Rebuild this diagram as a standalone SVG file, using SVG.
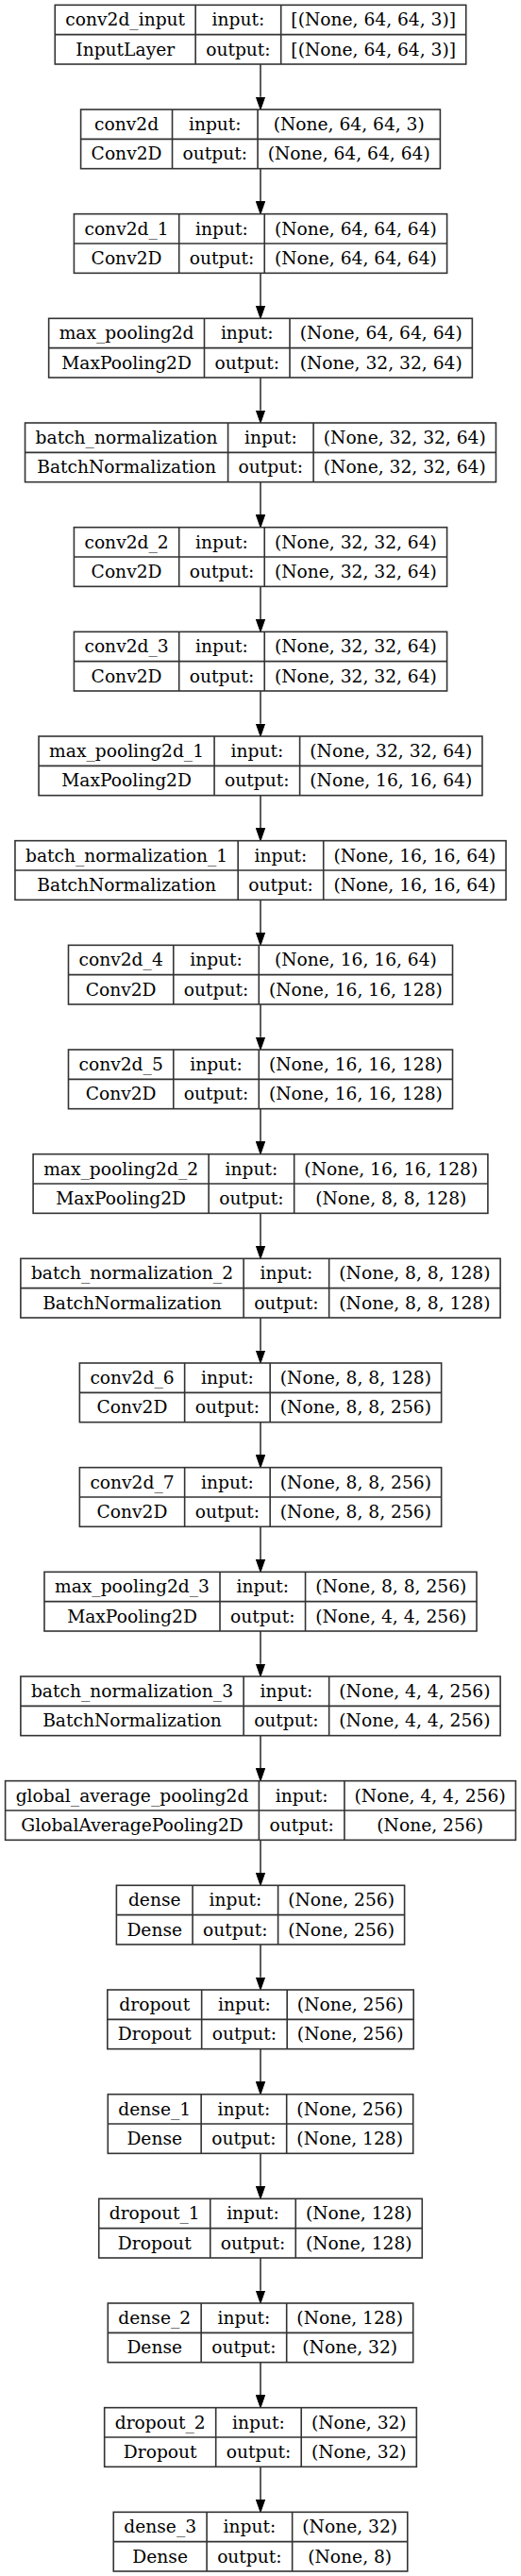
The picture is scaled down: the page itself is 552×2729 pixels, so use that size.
<svg xmlns="http://www.w3.org/2000/svg" width="552" height="2729" viewBox="0 0 552 2729">
<style>
.box{fill:#fff;stroke:#333;stroke-width:1.6}
.sep{stroke:#333;stroke-width:1.6;fill:none}
text{font-family:"DejaVu Serif","Liberation Serif",serif;font-size:18.67px;fill:#000;text-anchor:middle}
.edge{stroke:#333;stroke-width:1.6;fill:none;marker-end:url(#arrow)}
</style>
<defs>
<marker id="arrow" viewBox="0 0 13.33 9.33" refX="0" refY="4.67" markerWidth="13.33" markerHeight="9.33" markerUnits="userSpaceOnUse" orient="auto">
<path d="M0,0 L13.33,4.67 L0,9.33 z" fill="#000" stroke="#000" stroke-width="1"/>
</marker>
</defs>
<rect x="0" y="0" width="552" height="2729" fill="#fff"/>

<g id="connectors">
<path class="edge" d="M276,68 V102.67"/>
<path class="edge" d="M276,178.67 V213.33"/>
<path class="edge" d="M276,289.33 V324"/>
<path class="edge" d="M276,400 V434.67"/>
<path class="edge" d="M276,510.67 V545.33"/>
<path class="edge" d="M276,621.33 V656"/>
<path class="edge" d="M276,732 V766.67"/>
<path class="edge" d="M276,842.67 V877.33"/>
<path class="edge" d="M276,953.33 V988"/>
<path class="edge" d="M276,1064 V1098.67"/>
<path class="edge" d="M276,1174.67 V1209.33"/>
<path class="edge" d="M276,1285.33 V1320"/>
<path class="edge" d="M276,1396 V1430.67"/>
<path class="edge" d="M276,1506.67 V1541.33"/>
<path class="edge" d="M276,1617.33 V1652"/>
<path class="edge" d="M276,1728 V1762.67"/>
<path class="edge" d="M276,1838.67 V1873.33"/>
<path class="edge" d="M276,1949.33 V1984"/>
<path class="edge" d="M276,2060 V2094.67"/>
<path class="edge" d="M276,2170.67 V2205.33"/>
<path class="edge" d="M276,2281.33 V2316"/>
<path class="edge" d="M276,2392 V2426.67"/>
<path class="edge" d="M276,2502.67 V2537.33"/>
<path class="edge" d="M276,2613.33 V2648"/>
</g>

<g id="node-conv2d_input" transform="translate(0,5.33)">
<rect class="box" x="58.28" y="0" width="435.44" height="62.67"/>
<path class="sep" d="M58.28,31.33 H493.72 M207.16,0 V62.67 M297.69,0 V62.67"/>
<text x="132.72" y="22">conv2d_input</text><text x="132.72" y="53.3">InputLayer</text>
<text x="252.43" y="22">input:</text><text x="252.43" y="53.3">output:</text>
<text x="395.71" y="22">[(None, 64, 64, 3)]</text><text x="395.71" y="53.3">[(None, 64, 64, 3)]</text>
</g>

<g id="node-conv2d" transform="translate(0,116)">
<rect class="box" x="85.6" y="0" width="380.8" height="62.67"/>
<path class="sep" d="M85.6,31.33 H466.4 M182.53,0 V62.67 M273.06,0 V62.67"/>
<text x="134.07" y="22">conv2d</text><text x="134.07" y="53.3">Conv2D</text>
<text x="227.8" y="22">input:</text><text x="227.8" y="53.3">output:</text>
<text x="369.73" y="22">(None, 64, 64, 3)</text><text x="369.73" y="53.3">(None, 64, 64, 64)</text>
</g>

<g id="node-conv2d_1" transform="translate(0,226.67)">
<rect class="box" x="78.43" y="0" width="395.15" height="62.67"/>
<path class="sep" d="M78.43,31.33 H473.58 M189.71,0 V62.67 M280.24,0 V62.67"/>
<text x="134.07" y="22">conv2d_1</text><text x="134.07" y="53.3">Conv2D</text>
<text x="234.98" y="22">input:</text><text x="234.98" y="53.3">output:</text>
<text x="376.91" y="22">(None, 64, 64, 64)</text><text x="376.91" y="53.3">(None, 64, 64, 64)</text>
</g>

<g id="node-max_pooling2d" transform="translate(0,337.33)">
<rect class="box" x="51.65" y="0" width="448.71" height="62.67"/>
<path class="sep" d="M51.65,31.33 H500.36 M216.49,0 V62.67 M307.02,0 V62.67"/>
<text x="134.07" y="22">max_pooling2d</text><text x="134.07" y="53.3">MaxPooling2D</text>
<text x="261.76" y="22">input:</text><text x="261.76" y="53.3">output:</text>
<text x="403.69" y="22">(None, 64, 64, 64)</text><text x="403.69" y="53.3">(None, 32, 32, 64)</text>
</g>

<g id="node-batch_normalization" transform="translate(0,448)">
<rect class="box" x="26.55" y="0" width="498.9" height="62.67"/>
<path class="sep" d="M26.55,31.33 H525.45 M241.58,0 V62.67 M332.11,0 V62.67"/>
<text x="134.07" y="22">batch_normalization</text><text x="134.07" y="53.3">BatchNormalization</text>
<text x="286.85" y="22">input:</text><text x="286.85" y="53.3">output:</text>
<text x="428.78" y="22">(None, 32, 32, 64)</text><text x="428.78" y="53.3">(None, 32, 32, 64)</text>
</g>

<g id="node-conv2d_2" transform="translate(0,558.67)">
<rect class="box" x="78.43" y="0" width="395.15" height="62.67"/>
<path class="sep" d="M78.43,31.33 H473.58 M189.71,0 V62.67 M280.24,0 V62.67"/>
<text x="134.07" y="22">conv2d_2</text><text x="134.07" y="53.3">Conv2D</text>
<text x="234.98" y="22">input:</text><text x="234.98" y="53.3">output:</text>
<text x="376.91" y="22">(None, 32, 32, 64)</text><text x="376.91" y="53.3">(None, 32, 32, 64)</text>
</g>

<g id="node-conv2d_3" transform="translate(0,669.33)">
<rect class="box" x="78.43" y="0" width="395.15" height="62.67"/>
<path class="sep" d="M78.43,31.33 H473.58 M189.71,0 V62.67 M280.24,0 V62.67"/>
<text x="134.07" y="22">conv2d_3</text><text x="134.07" y="53.3">Conv2D</text>
<text x="234.98" y="22">input:</text><text x="234.98" y="53.3">output:</text>
<text x="376.91" y="22">(None, 32, 32, 64)</text><text x="376.91" y="53.3">(None, 32, 32, 64)</text>
</g>

<g id="node-max_pooling2d_1" transform="translate(0,780)">
<rect class="box" x="41.05" y="0" width="469.91" height="62.67"/>
<path class="sep" d="M41.05,31.33 H510.96 M227.09,0 V62.67 M317.62,0 V62.67"/>
<text x="134.07" y="22">max_pooling2d_1</text><text x="134.07" y="53.3">MaxPooling2D</text>
<text x="272.36" y="22">input:</text><text x="272.36" y="53.3">output:</text>
<text x="414.29" y="22">(None, 32, 32, 64)</text><text x="414.29" y="53.3">(None, 16, 16, 64)</text>
</g>

<g id="node-batch_normalization_1" transform="translate(0,890.67)">
<rect class="box" x="15.95" y="0" width="520.11" height="62.67"/>
<path class="sep" d="M15.95,31.33 H536.06 M252.19,0 V62.67 M342.72,0 V62.67"/>
<text x="134.07" y="22">batch_normalization_1</text><text x="134.07" y="53.3">BatchNormalization</text>
<text x="297.46" y="22">input:</text><text x="297.46" y="53.3">output:</text>
<text x="439.39" y="22">(None, 16, 16, 64)</text><text x="439.39" y="53.3">(None, 16, 16, 64)</text>
</g>

<g id="node-conv2d_4" transform="translate(0,1001.33)">
<rect class="box" x="72.49" y="0" width="407.02" height="62.67"/>
<path class="sep" d="M72.49,31.33 H479.51 M183.77,0 V62.67 M274.3,0 V62.67"/>
<text x="128.13" y="22">conv2d_4</text><text x="128.13" y="53.3">Conv2D</text>
<text x="229.04" y="22">input:</text><text x="229.04" y="53.3">output:</text>
<text x="376.91" y="22">(None, 16, 16, 64)</text><text x="376.91" y="53.3">(None, 16, 16, 128)</text>
</g>

<g id="node-conv2d_5" transform="translate(0,1112)">
<rect class="box" x="72.49" y="0" width="407.02" height="62.67"/>
<path class="sep" d="M72.49,31.33 H479.51 M183.77,0 V62.67 M274.3,0 V62.67"/>
<text x="128.13" y="22">conv2d_5</text><text x="128.13" y="53.3">Conv2D</text>
<text x="229.04" y="22">input:</text><text x="229.04" y="53.3">output:</text>
<text x="376.91" y="22">(None, 16, 16, 128)</text><text x="376.91" y="53.3">(None, 16, 16, 128)</text>
</g>

<g id="node-max_pooling2d_2" transform="translate(0,1222.67)">
<rect class="box" x="35.11" y="0" width="481.78" height="62.67"/>
<path class="sep" d="M35.11,31.33 H516.89 M221.15,0 V62.67 M311.68,0 V62.67"/>
<text x="128.13" y="22">max_pooling2d_2</text><text x="128.13" y="53.3">MaxPooling2D</text>
<text x="266.42" y="22">input:</text><text x="266.42" y="53.3">output:</text>
<text x="414.29" y="22">(None, 16, 16, 128)</text><text x="414.29" y="53.3">(None, 8, 8, 128)</text>
</g>

<g id="node-batch_normalization_2" transform="translate(0,1333.33)">
<rect class="box" x="21.88" y="0" width="508.24" height="62.67"/>
<path class="sep" d="M21.88,31.33 H530.12 M258.12,0 V62.67 M348.65,0 V62.67"/>
<text x="140" y="22">batch_normalization_2</text><text x="140" y="53.3">BatchNormalization</text>
<text x="303.39" y="22">input:</text><text x="303.39" y="53.3">output:</text>
<text x="439.39" y="22">(None, 8, 8, 128)</text><text x="439.39" y="53.3">(None, 8, 8, 128)</text>
</g>

<g id="node-conv2d_6" transform="translate(0,1444)">
<rect class="box" x="84.36" y="0" width="383.28" height="62.67"/>
<path class="sep" d="M84.36,31.33 H467.64 M195.64,0 V62.67 M286.17,0 V62.67"/>
<text x="140" y="22">conv2d_6</text><text x="140" y="53.3">Conv2D</text>
<text x="240.91" y="22">input:</text><text x="240.91" y="53.3">output:</text>
<text x="376.91" y="22">(None, 8, 8, 128)</text><text x="376.91" y="53.3">(None, 8, 8, 256)</text>
</g>

<g id="node-conv2d_7" transform="translate(0,1554.67)">
<rect class="box" x="84.36" y="0" width="383.28" height="62.67"/>
<path class="sep" d="M84.36,31.33 H467.64 M195.64,0 V62.67 M286.17,0 V62.67"/>
<text x="140" y="22">conv2d_7</text><text x="140" y="53.3">Conv2D</text>
<text x="240.91" y="22">input:</text><text x="240.91" y="53.3">output:</text>
<text x="376.91" y="22">(None, 8, 8, 256)</text><text x="376.91" y="53.3">(None, 8, 8, 256)</text>
</g>

<g id="node-max_pooling2d_3" transform="translate(0,1665.33)">
<rect class="box" x="46.98" y="0" width="458.04" height="62.67"/>
<path class="sep" d="M46.98,31.33 H505.02 M233.02,0 V62.67 M323.55,0 V62.67"/>
<text x="140" y="22">max_pooling2d_3</text><text x="140" y="53.3">MaxPooling2D</text>
<text x="278.29" y="22">input:</text><text x="278.29" y="53.3">output:</text>
<text x="414.29" y="22">(None, 8, 8, 256)</text><text x="414.29" y="53.3">(None, 4, 4, 256)</text>
</g>

<g id="node-batch_normalization_3" transform="translate(0,1776)">
<rect class="box" x="21.88" y="0" width="508.24" height="62.67"/>
<path class="sep" d="M21.88,31.33 H530.12 M258.12,0 V62.67 M348.65,0 V62.67"/>
<text x="140" y="22">batch_normalization_3</text><text x="140" y="53.3">BatchNormalization</text>
<text x="303.39" y="22">input:</text><text x="303.39" y="53.3">output:</text>
<text x="439.39" y="22">(None, 4, 4, 256)</text><text x="439.39" y="53.3">(None, 4, 4, 256)</text>
</g>

<g id="node-global_average_pooling2d" transform="translate(0,1886.67)">
<rect class="box" x="5.6" y="0" width="540.79" height="62.67"/>
<path class="sep" d="M5.6,31.33 H546.4 M274.39,0 V62.67 M364.92,0 V62.67"/>
<text x="140" y="22">global_average_pooling2d</text><text x="140" y="53.3">GlobalAveragePooling2D</text>
<text x="319.66" y="22">input:</text><text x="319.66" y="53.3">output:</text>
<text x="455.66" y="22">(None, 4, 4, 256)</text><text x="455.66" y="53.3">(None, 256)</text>
</g>

<g id="node-dense" transform="translate(0,1997.33)">
<rect class="box" x="123.4" y="0" width="305.2" height="62.67"/>
<path class="sep" d="M123.4,31.33 H428.6 M204.07,0 V62.67 M294.6,0 V62.67"/>
<text x="163.74" y="22">dense</text><text x="163.74" y="53.3">Dense</text>
<text x="249.34" y="22">input:</text><text x="249.34" y="53.3">output:</text>
<text x="361.6" y="22">(None, 256)</text><text x="361.6" y="53.3">(None, 256)</text>
</g>

<g id="node-dropout" transform="translate(0,2108)">
<rect class="box" x="113.82" y="0" width="324.37" height="62.67"/>
<path class="sep" d="M113.82,31.33 H438.19 M213.66,0 V62.67 M304.19,0 V62.67"/>
<text x="163.74" y="22">dropout</text><text x="163.74" y="53.3">Dropout</text>
<text x="258.93" y="22">input:</text><text x="258.93" y="53.3">output:</text>
<text x="371.19" y="22">(None, 256)</text><text x="371.19" y="53.3">(None, 256)</text>
</g>

<g id="node-dense_1" transform="translate(0,2218.67)">
<rect class="box" x="114.31" y="0" width="323.38" height="62.67"/>
<path class="sep" d="M114.31,31.33 H437.69 M213.16,0 V62.67 M303.69,0 V62.67"/>
<text x="163.74" y="22">dense_1</text><text x="163.74" y="53.3">Dense</text>
<text x="258.43" y="22">input:</text><text x="258.43" y="53.3">output:</text>
<text x="370.69" y="22">(None, 256)</text><text x="370.69" y="53.3">(None, 128)</text>
</g>

<g id="node-dropout_1" transform="translate(0,2329.33)">
<rect class="box" x="104.73" y="0" width="342.55" height="62.67"/>
<path class="sep" d="M104.73,31.33 H447.28 M222.75,0 V62.67 M313.28,0 V62.67"/>
<text x="163.74" y="22">dropout_1</text><text x="163.74" y="53.3">Dropout</text>
<text x="268.02" y="22">input:</text><text x="268.02" y="53.3">output:</text>
<text x="380.28" y="22">(None, 128)</text><text x="380.28" y="53.3">(None, 128)</text>
</g>

<g id="node-dense_2" transform="translate(0,2440)">
<rect class="box" x="114.31" y="0" width="323.38" height="62.67"/>
<path class="sep" d="M114.31,31.33 H437.69 M213.16,0 V62.67 M303.69,0 V62.67"/>
<text x="163.74" y="22">dense_2</text><text x="163.74" y="53.3">Dense</text>
<text x="258.43" y="22">input:</text><text x="258.43" y="53.3">output:</text>
<text x="370.69" y="22">(None, 128)</text><text x="370.69" y="53.3">(None, 32)</text>
</g>

<g id="node-dropout_2" transform="translate(0,2550.67)">
<rect class="box" x="110.67" y="0" width="330.66" height="62.67"/>
<path class="sep" d="M110.67,31.33 H441.33 M228.69,0 V62.67 M319.22,0 V62.67"/>
<text x="169.68" y="22">dropout_2</text><text x="169.68" y="53.3">Dropout</text>
<text x="273.96" y="22">input:</text><text x="273.96" y="53.3">output:</text>
<text x="380.28" y="22">(None, 32)</text><text x="380.28" y="53.3">(None, 32)</text>
</g>

<g id="node-dense_3" transform="translate(0,2661.33)">
<rect class="box" x="120.26" y="0" width="311.49" height="62.67"/>
<path class="sep" d="M120.26,31.33 H431.74 M219.11,0 V62.67 M309.64,0 V62.67"/>
<text x="169.69" y="22">dense_3</text><text x="169.69" y="53.3">Dense</text>
<text x="264.38" y="22">input:</text><text x="264.38" y="53.3">output:</text>
<text x="370.69" y="22">(None, 32)</text><text x="370.69" y="53.3">(None, 8)</text>
</g>
</svg>
